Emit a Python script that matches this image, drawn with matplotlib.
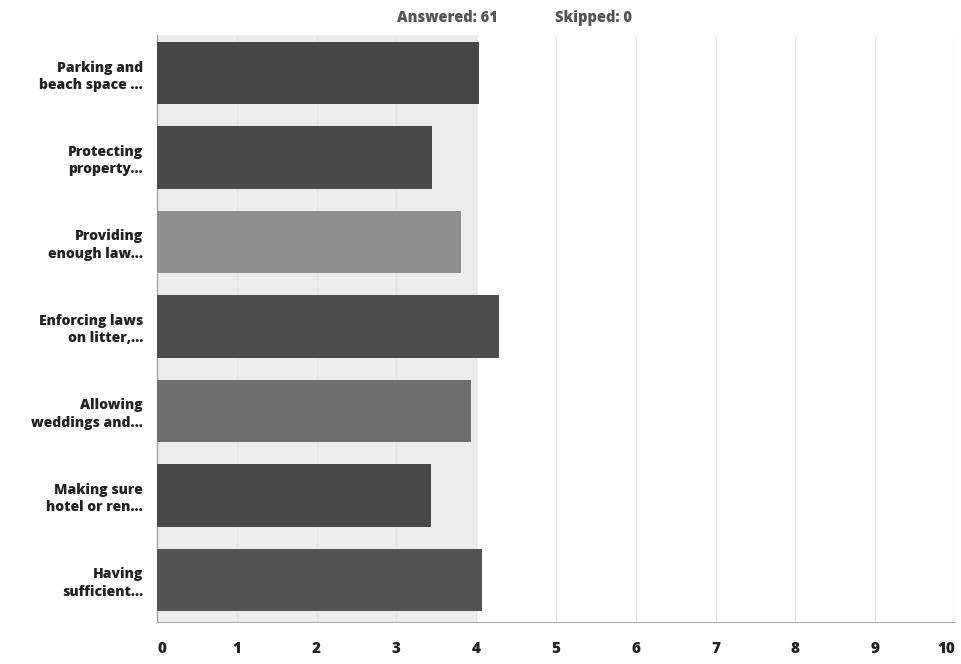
import matplotlib.pyplot as plt
import numpy as np

labels = [
    "Parking and\nbeach space ...",
    "Protecting\nproperty...",
    "Providing\nenough law...",
    "Enforcing laws\non litter,...",
    "Allowing\nweddings and...",
    "Making sure\nhotel or ren...",
    "Having\nsufficient...",
]
values = [4.03, 3.45, 3.81, 4.29, 3.94, 3.43, 4.07]
colors = ["#474747", "#4a4a4a", "#8e8e8e", "#4d4d4d", "#6e6e6e", "#494949", "#545454"]
answered = 61
skipped = 0
xticks = list(range(0, 11))

plt.rcParams['font.family'] = ['Open Sans', 'DejaVu Sans']

fig = plt.figure(figsize=(9.61, 6.64), dpi=100)
ax = fig.add_axes([157 / 961, 42 / 664, 798 / 961, 587 / 664])

y = np.arange(len(labels))
# faint gray band behind the bars, as in the scan
ax.axvspan(0, 4, color="#ececec", zorder=0)
ax.barh(y, values, height=0.74, color=colors, zorder=3)

ax.set_xlim(0, 10)
ax.set_ylim(len(labels) - 0.5, -0.45)
ax.set_xticks(xticks)
ax.set_xticklabels([str(t) for t in xticks], fontsize=11, fontweight=800, color="#222222")
tl = ax.get_xticklabels()
tl[0].set_ha("left")
tl[-1].set_ha("right")
ax.set_yticks(y)
ax.set_yticklabels(labels, fontsize=10, fontweight=800, color="#222222", linespacing=1.3)
ax.tick_params(axis="both", length=0)
ax.tick_params(axis="x", pad=14)
ax.tick_params(axis="y", pad=10)

ax.grid(axis="x", color="#e4e4e4", linewidth=1, zorder=1)
for s in ["top", "right"]:
    ax.spines[s].set_visible(False)
ax.spines["left"].set_color("#9a9a9a")
ax.spines["bottom"].set_color("#b0b0b0")

fig.text(397 / 961, 1 - 18 / 664, f"Answered: {answered}", fontsize=10.5, fontweight=800,
         color="#555555", va="center", ha="left")
fig.text(555 / 961, 1 - 18 / 664, f"Skipped: {skipped}", fontsize=10.5, fontweight=800,
         color="#555555", va="center", ha="left")

fig.savefig("out.png", dpi=100)
